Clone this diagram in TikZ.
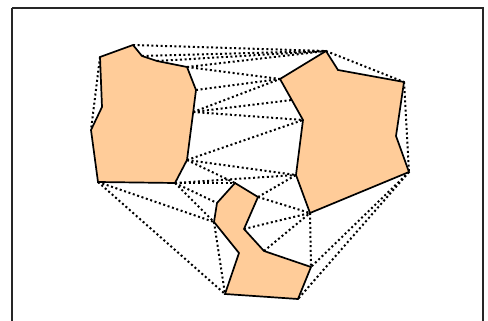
\documentclass[tikz,border=0pt]{standalone}
\usepackage{xcolor}
\usepackage{tikz}
\definecolor{peach}{RGB}{255,204,153}

\begin{document}
\begin{tikzpicture}[x=1pt,y=-1pt,
    obstacle/.style={draw=black, fill=peach, line width=1.7pt, line join=miter},
    sight/.style={line width=2pt, dash pattern=on 2pt off 2.6pt}]
        \useasboundingbox (0,0) rectangle (488,321);
        \draw[line width=1.4pt, black!85] (12,8) -- (483,8) -- (483,330);
        \draw[line width=1.4pt, black!85] (12,8) -- (12,330);
        % left obstacle
        \coordinate (L1) at (133,45);
        \coordinate (L2) at (142,56);
        \coordinate (L3) at (157,61);
        \coordinate (L4) at (187,67);
        \coordinate (L5) at (196,90);
        \coordinate (L6) at (193.2,112);
        \coordinate (L7) at (187,160);
        \coordinate (L8) at (175,183);
        \coordinate (L9) at (98,182);
        \coordinate (L10) at (91,130);
        \coordinate (L11) at (102,107);
        \coordinate (L12) at (100,57);
        % right obstacle
        \coordinate (R1) at (326,51);
        \coordinate (R2) at (338,70);
        \coordinate (R3) at (404,82);
        \coordinate (R4) at (396,136);
        \coordinate (R5) at (409,172);
        \coordinate (R6) at (310,213);
        \coordinate (R7) at (296,175);
        \coordinate (R8) at (303,120);
        \coordinate (R10) at (291.8,100);
        \coordinate (R9) at (280,79);
        % bottom obstacle
        \coordinate (B1) at (235,183);
        \coordinate (B2) at (258,197);
        \coordinate (B3) at (244,229);
        \coordinate (B4) at (264,251);
        \coordinate (B5) at (311,267);
        \coordinate (B6) at (298,299);
        \coordinate (B7) at (225,294);
        \coordinate (B8) at (239,253);
        \coordinate (B9) at (214,222);
        \coordinate (B10) at (217,203);
        % visibility edges
        \foreach \a/\b in {L1/R1, L2/R1, L3/R1, L4/R1, L4/R9, L5/R9, L6/R9, L6/R10, L6/R8,
                           L7/R8, L7/R7, L7/B1, L8/R7, L8/B1, L8/B10, L8/B9, L9/B9, L9/B7,
                           B9/B7, B2/R7, B2/R6, B3/R6, B4/R6, R6/B5, R5/B5, R5/B6,
                           R1/R3, R3/R5, L12/L10}
            \draw[sight] (\a) -- (\b);
        \draw[obstacle] (L1) -- (L2) -- (L3) -- (L4) -- (L5) -- (L6) -- (L7) -- (L8)
            -- (L9) -- (L10) -- (L11) -- (L12) -- cycle;
        \draw[obstacle] (R1) -- (R2) -- (R3) -- (R4) -- (R5) -- (R6) -- (R7) -- (R8)
            -- (R10) -- (R9) -- cycle;
        \draw[obstacle] (B1) -- (B2) -- (B3) -- (B4) -- (B5) -- (B6) -- (B7) -- (B8)
            -- (B9) -- (B10) -- cycle;
\end{tikzpicture}
\end{document}
